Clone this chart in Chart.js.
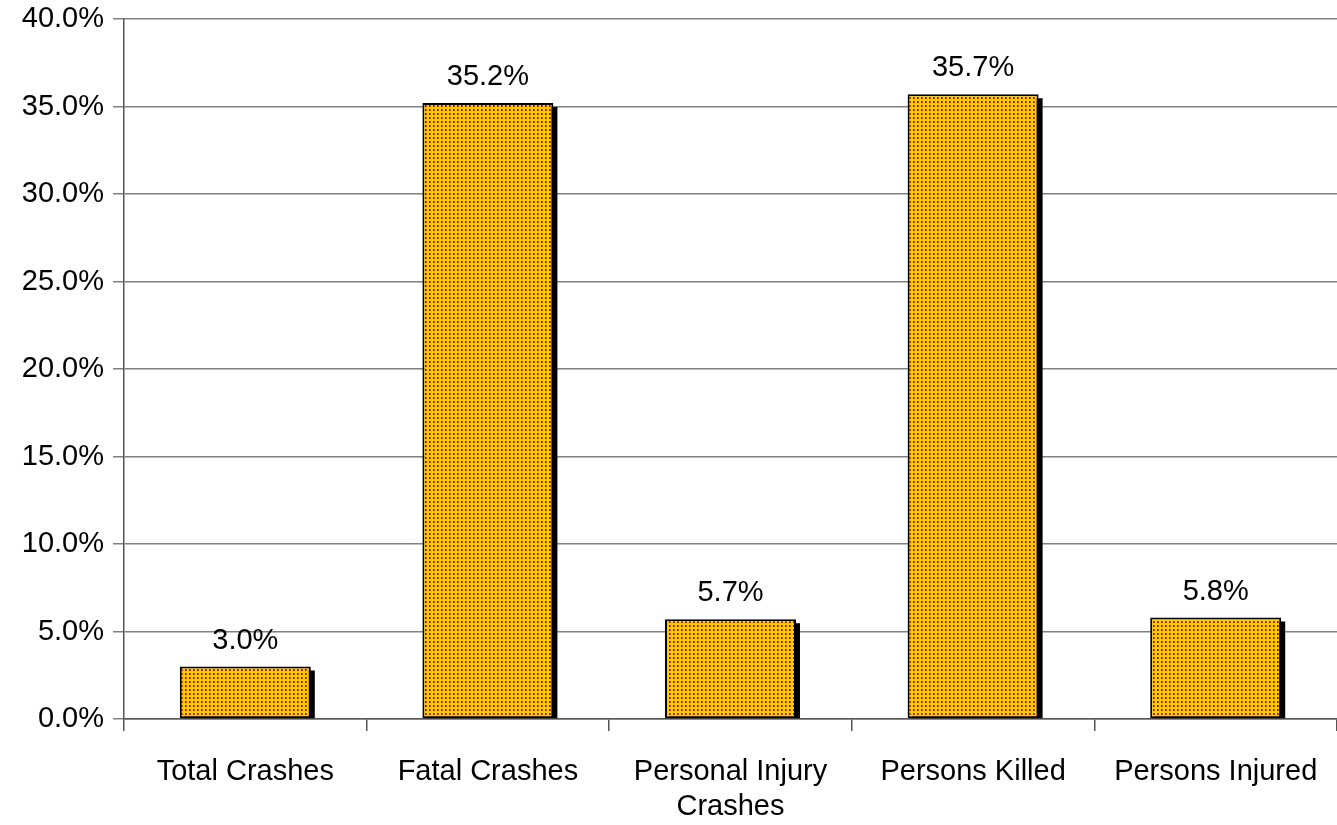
<!DOCTYPE html>
<html><head><meta charset="utf-8">
<script src="https://cdn.jsdelivr.net/npm/chart.js@4"></script>
<style>html,body{margin:0;padding:0;background:#fff;}#wrap{width:1337px;height:825px;}</style>
</head><body><div id="wrap"><canvas id="c" width="1337" height="825"></canvas></div>
<script>
const categories = [["Total Crashes"], ["Fatal Crashes"], ["Personal Injury", "Crashes"], ["Persons Killed"], ["Persons Injured"]];
const values = [3.0, 35.2, 5.7, 35.7, 5.8];
const yTicks = [0, 5, 10, 15, 20, 25, 30, 35, 40];

const FONT = '"Liberation Sans", Arial, sans-serif';
const ctx0 = document.getElementById('c').getContext('2d');
const pattern = ctx0.createPattern((()=>{const t=document.createElement('canvas');t.width=4;t.height=4;const g=t.getContext('2d');g.fillStyle='#FFCC00';g.fillRect(0,0,4,4);g.fillStyle='#B80000';g.fillRect(1,1,2,2);g.fillStyle='rgba(255,204,0,0.35)';g.fillRect(2,1,1,2);return t;})(),'repeat');

const shadowPlugin = {
  id:'shadow',
  beforeDatasetsDraw(chart){
    const c = chart.ctx, meta = chart.getDatasetMeta(0), area = chart.chartArea;
    c.save();
    c.beginPath(); c.rect(area.left, area.top-10, area.right-area.left, area.bottom-area.top+10); c.clip();
    c.fillStyle = '#000';
    meta.data.forEach(b=>{
      const p = b.getProps(['x','y','width','base'], true);
      c.fillRect(p.x - p.width/2 + 4, p.y + 4, p.width, p.base - p.y - 4);
    });
    c.restore();
  },
  afterDatasetsDraw(chart){
    const c = chart.ctx, meta = chart.getDatasetMeta(0);
    c.save();
    c.font = '29px ' + FONT;
    c.fillStyle = '#000'; c.textAlign = 'center'; c.textBaseline = 'alphabetic';
    meta.data.forEach((b,i)=>{
      const p = b.getProps(['x','y'], true);
      c.fillText(values[i].toFixed(1) + '%', p.x, p.y - 18);
    });
    c.restore();
  }
};

new Chart(ctx0, {
  type:'bar',
  data:{ labels: categories, datasets:[{ data: values, backgroundColor: pattern, borderColor:'#000', borderWidth:2, borderSkipped:false, barPercentage:0.54, categoryPercentage:1 }]},
  options:{
    responsive:false, animation:false,
    layout:{ padding:{ top:19, right:0, left:0, bottom:0 } },
    plugins:{ legend:{display:false}, tooltip:{enabled:false} },
    scales:{
      x:{
        afterFit(axis){ axis.height = 106; axis.paddingLeft = 0; axis.paddingRight = 0; },
        grid:{ offset:true, drawOnChartArea:false, color:'#555', tickLength:12, lineWidth:1.5 },
        border:{ color:'#555', width:1.5 },
        ticks:{ color:'#000', font:{ family:FONT, size:29, lineHeight:1.2 }, padding:24, maxRotation:0, autoSkip:false }
      },
      y:{
        min:0, max:40,
        afterFit(axis){ axis.width = 124; axis.paddingTop = 0; axis.paddingBottom = 0; },
        afterBuildTicks(axis){ axis.ticks = yTicks.map(v=>({value:v})); },
        grid:{ color:'#808080', lineWidth:1.5, tickLength:11 },
        border:{ color:'#555', width:1.5 },
        ticks:{ color:'#000', font:{ family:FONT, size:29 }, padding:9, callback:v=>v.toFixed(1)+'%' }
      }
    }
  },
  plugins:[shadowPlugin]
});
</script></body></html>
